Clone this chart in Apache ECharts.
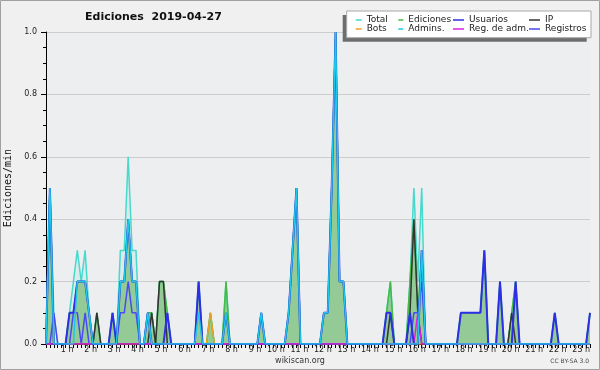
<!DOCTYPE html>
<html><head><meta charset="utf-8">
<script src="https://cdn.jsdelivr.net/npm/echarts@6/dist/echarts.min.js"></script>
<style>html,body{margin:0;padding:0;background:#f0f0f0}#c{width:600px;height:370px}</style>
</head><body><div id="c"></div>
<script>
// 10-minute bins, 0h00 .. 23h10 (edits per minute)
const hourLabels = ['1 h','2 h','3 h','4 h','5 h','6 h','7 h','8 h','9 h','10 h','11 h','12 h','13 h','14 h','15 h','16 h','17 h','18 h','19 h','20 h','21 h','22 h','23 h'];
const yTickLabels = ['0.0','0.2','0.4','0.6','0.8','1.0'];

const total = [
 0,.5,.1,0,0,0,   .1,.2,.3,.2,.3,.1,   0,.1,0,0,0,.1,   0,.3,.3,.6,.3,.3,
 0,0,.1,.1,0,.2,  .2,.1,0,0,0,0,       0,0,0,.2,0,0,    .1,0,0,0,.2,0,
 0,0,0,0,0,0,     0,.1,0,0,0,0,        0,0,.1,.3,.5,0,  0,0,0,0,0,.1,
 .1,.5,1,.2,.2,0, 0,0,0,0,0,0,         0,0,0,.1,.2,0,   0,0,0,.2,.5,.2,
 .5,0,0,0,0,0,    0,0,0,0,.1,.1,       .1,.1,.1,.1,.3,0, 0,0,.2,0,0,.1,
 .2,0,0,0,0,0,    0,0,0,0,.1,0,        0,0,0,0,0,0,     0,.1];
const ediciones = [
 0,.5,0,0,0,0,    .1,.1,.2,.2,.2,.1,   0,.1,0,0,0,.1,   0,.2,.2,.4,.2,.2,
 0,0,.1,.1,0,.2,  .2,.1,0,0,0,0,       0,0,0,.2,0,0,    .1,0,0,0,.2,0,
 0,0,0,0,0,0,     0,.1,0,0,0,0,        0,0,.1,.3,.5,0,  0,0,0,0,0,.1,
 .1,.5,1,.2,.2,0, 0,0,0,0,0,0,         0,0,0,.1,.2,0,   0,0,0,.2,.4,.1,
 .3,0,0,0,0,0,    0,0,0,0,.1,.1,       .1,.1,.1,.1,.3,0, 0,0,.2,0,0,.1,
 .2,0,0,0,0,0,    0,0,0,0,.1,0,        0,0,0,0,0,0,     0,.1];
const usuarios = [
 0,.5,0,0,0,0,    .1,.1,.2,.2,.2,.1,   0,0,0,0,0,.1,    0,.2,.2,.4,.2,.2,
 0,0,.1,0,0,0,    0,.1,0,0,0,0,        0,0,0,.2,0,0,    0,0,0,0,.1,0,
 0,0,0,0,0,0,     0,.1,0,0,0,0,        0,0,.1,.3,.5,0,  0,0,0,0,0,.1,
 .1,.5,1,.2,.2,0, 0,0,0,0,0,0,         0,0,0,.1,.1,0,   0,0,0,.1,0,0,
 .3,0,0,0,0,0,    0,0,0,0,.1,.1,       .1,.1,.1,.1,.3,0, 0,0,.2,0,0,0,
 .2,0,0,0,0,0,    0,0,0,0,.1,0,        0,0,0,0,0,0,     0,.1];
const ip = [
 0,0,0,0,0,0,     0,0,0,0,0,0,         0,.1,0,0,0,0,    0,0,0,0,0,0,
 0,0,0,.1,0,.2,   .2,0,0,0,0,0,        0,0,0,0,0,0,     0,0,0,0,0,0,
 0,0,0,0,0,0,     0,0,0,0,0,0,         0,0,0,0,0,0,     0,0,0,0,0,0,
 0,0,0,0,0,0,     0,0,0,0,0,0,         0,0,0,0,.1,0,    0,0,0,.1,.4,.1,
 0,0,0,0,0,0,     0,0,0,0,0,0,         0,0,0,0,0,0,     0,0,0,0,0,.1,
 0,0,0,0,0,0,     0,0,0,0,0,0,         0,0,0,0,0,0,     0,0];
const bots = [
 0,0,0,0,0,0,     0,0,0,0,0,0,         0,0,0,0,0,0,     0,0,0,0,0,0,
 0,0,0,0,0,0,     0,0,0,0,0,0,         0,0,0,0,0,0,     .1,0,0,0,0,0,
 0,0,0,0,0,0,     0,0,0,0,0,0,         0,0,0,0,0,0,     0,0,0,0,0,0,
 0,0,0,0,0,0,     0,0,0,0,0,0,         0,0,0,0,0,0,     0,0,0,0,0,0,
 0,0,0,0,0,0,     0,0,0,0,0,0,         0,0,0,0,0,0,     0,0,0,0,0,0,
 0,0,0,0,0,0,     0,0,0,0,0,0,         0,0,0,0,0,0,     0,0];
const admins = [
 0,.5,0,0,0,0,    0,0,.2,.2,.2,.1,     0,0,0,0,0,0,     0,.2,.2,.4,.2,.2,
 0,0,.1,0,0,0,    0,0,0,0,0,0,         0,0,0,.1,0,0,    0,0,0,0,.1,0,
 0,0,0,0,0,0,     0,.1,0,0,0,0,        0,0,.1,.3,.5,0,  0,0,0,0,0,.1,
 .1,.5,1,.2,.2,0, 0,0,0,0,0,0,         0,0,0,0,0,0,     0,0,0,0,0,0,
 .3,0,0,0,0,0,    0,0,0,0,0,0,         0,0,0,0,0,0,     0,0,0,0,0,0,
 0,0,0,0,0,0,     0,0,0,0,0,0,         0,0,0,0,0,0,     0,0];
const regAdm = [
 0,0,0,0,0,0,     0,0,0,0,0,0,         0,0,0,0,0,0,     0,0,0,0,0,0,
 0,0,0,0,0,0,     0,0,0,0,0,0,         0,0,0,0,0,0,     0,0,0,0,0,0,
 0,0,0,0,0,0,     0,0,0,0,0,0,         0,0,0,0,0,0,     0,0,0,0,0,0,
 0,0,0,0,0,0,     0,0,0,0,0,0,         0,0,0,0,0,0,     0,0,0,0,0,.1,
 0,0,0,0,0,0,     0,0,0,0,0,0,         0,0,0,0,0,0,     0,0,0,0,0,0,
 0,0,0,0,0,0,     0,0,0,0,0,0,         0,0,0,0,0,0,     0,0];
const registros = [
 0,0,.1,0,0,0,    0,.1,.1,0,.1,0,      0,0,0,0,0,0,     0,.1,.1,.2,.1,.1,
 0,0,0,0,0,0,     0,0,0,0,0,0,         0,0,0,0,0,0,     0,0,0,0,0,0,
 0,0,0,0,0,0,     0,0,0,0,0,0,         0,0,0,0,0,0,     0,0,0,0,0,0,
 0,0,0,0,0,0,     0,0,0,0,0,0,         0,0,0,0,0,0,     0,0,0,0,.1,.1,
 .2,0,0,0,0,0,    0,0,0,0,0,0,         0,0,0,0,0,0,     0,0,0,0,0,0,
 0,0,0,0,0,0,     0,0,0,0,0,0,         0,0,0,0,0,0,     0,0];

const bins = total.map((_, i) => String(i));

function line(name, data, color, width, area) {
  const s = {name, type:'line', data, symbol:'none', showSymbol:false, silent:true,
    lineStyle:{color, width}, itemStyle:{color}};
  if (area) s.areaStyle = area;
  return s;
}

const legendDefs = [
  ['Total', 355.7, 20, 6], ['Ediciones', 398.3, 20, 5], ['Usuarios', 453, 20, 11], ['IP', 529, 20, 11],
  ['Bots', 355.7, 29, 6], ['Admins.', 398.3, 29, 5], ['Reg. de adm.', 453, 29, 11], ['Registros', 529, 29, 11]
];

const chart = echarts.init(document.getElementById('c'), null, {renderer:'canvas'});
chart.setOption({
  animation:false,
  backgroundColor:'#f0f0f0',
  title:{text:'Ediciones  2019-04-27', left:85, top:12, padding:0,
    textStyle:{fontFamily:'DejaVu Sans', fontWeight:'bold', fontSize:11, color:'#111'}},
  grid:{left:46, right:10, top:32, bottom:26, show:true, backgroundColor:'#edeef0', borderWidth:0,
    containLabel:false, outerBoundsMode:'none'},
  legend: legendDefs.map(([n, x, y, w]) => ({data:[n], left:x, top:y-4.5, padding:0, itemGap:0,
    itemWidth:w, itemHeight:1.5, icon:'rect', selectedMode:false, z:10,
    textStyle:{fontFamily:'DejaVu Sans', fontSize:9, color:'#222', lineHeight:9}})),
  xAxis:{type:'category', data:bins, boundaryGap:false,
    axisLine:{lineStyle:{color:'#000', width:1}},
    axisTick:{show:true, interval:0, length:4, lineStyle:{color:'#000'}},
    axisLabel:{interval:(i) => i > 0 && i % 6 === 0, formatter:(v) => hourLabels[Number(v)/6 - 1],
      align:'right', padding:[0,-4,0,0], margin:2, fontFamily:'DejaVu Sans', fontSize:8, color:'#222'},
    splitLine:{show:false}},
  yAxis:{type:'value', min:0, max:1, interval:0.2,
    name:'Ediciones/min', nameLocation:'middle', nameGap:33,
    nameTextStyle:{fontFamily:'DejaVu Sans Mono', fontSize:10, color:'#111'},
    axisLine:{show:true, lineStyle:{color:'#000'}},
    axisTick:{show:true, length:5, lineStyle:{color:'#000'}},
    minorTick:{show:true, splitNumber:4, length:3, lineStyle:{color:'#000'}},
    axisLabel:{formatter:(v) => yTickLabels[Math.round(v*5)], margin:9, fontFamily:'DejaVu Sans', fontSize:8, color:'#222'},
    splitLine:{lineStyle:{color:'#cdcdcd', width:1}}},
  graphic:[
    {type:'rect', z:0, shape:{x:0.5, y:0.5, width:599, height:369}, style:{fill:'none', stroke:'#a0a0a0', lineWidth:1}},
    {type:'rect', z:5, shape:{x:342.7, y:15, width:244, height:26.7}, style:{fill:'#6e6e6e'}},
    {type:'rect', z:6, shape:{x:346.7, y:11, width:244.3, height:26.7}, style:{fill:'#ffffff', stroke:'#a8a8a8', lineWidth:1}},
    {type:'text', z:6, style:{text:'wikiscan.org', x:300, y:361, align:'center', verticalAlign:'middle', font:'8px "DejaVu Sans"', fill:'#333'}},
    {type:'text', z:6, style:{text:'CC BY-SA 3.0', x:589, y:361, align:'right', verticalAlign:'middle', font:'6px "DejaVu Sans"', fill:'#444'}}
  ],
  series:[
    line('Total', total, '#46d9cc', 1.5, {color:'rgba(70,217,204,0.15)'}),
    line('Ediciones', ediciones, '#44bb44', 1.5, {color:'#90c890', opacity:0.95}),
    line('Bots', bots, '#f0a020', 1.5),
    line('IP', ip, '#333333', 1.5),
    line('Registros', registros, '#4a4af2', 1.5),
    line('Reg. de adm.', regAdm, '#e020e0', 1.5),
    line('Usuarios', usuarios, '#2e2ee6', 2.0),
    line('Admins.', admins, '#1ec8e8', 1.5)
  ]
});
</script></body></html>
